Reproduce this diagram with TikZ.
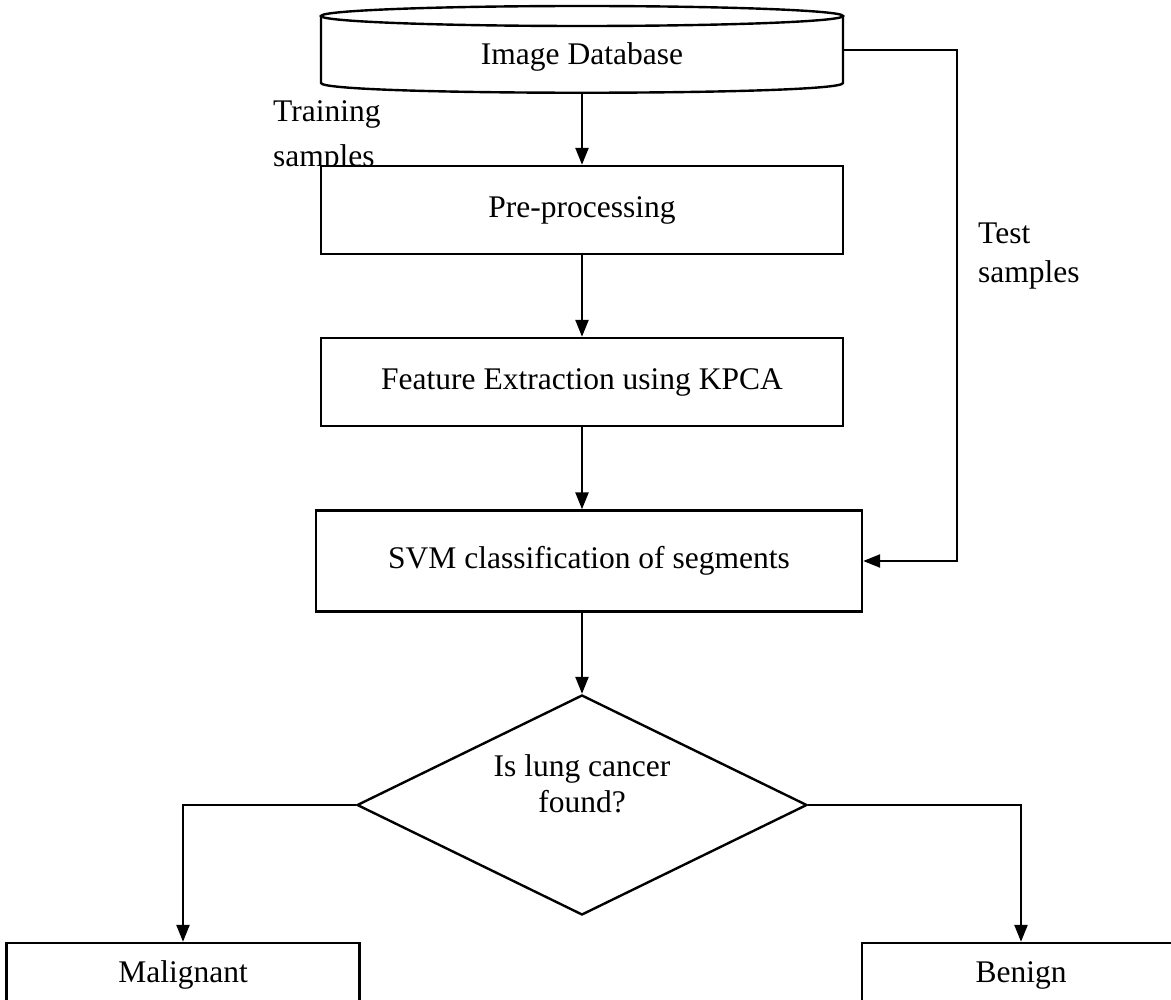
\documentclass[tikz,border=0pt]{standalone}
\usepackage{fontspec}
\setmainfont{Liberation Serif}
\usetikzlibrary{arrows.meta,shapes.geometric}
\begin{document}
\begin{tikzpicture}[x=1pt,y=-1pt,
  line width=2.4pt,
  >={Triangle[length=17pt,width=13pt]},
  txt/.style={font=\fontsize{31.5}{40}\selectfont},
  box/.style={draw, fill=white, rectangle, inner sep=0pt, txt},
  lbl/.style={txt, align=left, inner sep=0pt}]
\useasboundingbox (0,0) rectangle (1171,1000);

% labels (drawn first so boxes can cover them)
\node[lbl, anchor=west, font=\fontsize{31.5}{45}\selectfont] (trn) at (272,137) {Training\\samples};
\node[lbl, anchor=west, font=\fontsize{31.5}{39}\selectfont] (tst) at (977,256) {Test\\samples};

% database cylinder
\draw[fill=white] (321,16) -- (321,83) .. controls (321,96) and (843,96) .. (843,83) -- (843,16);
\draw[fill=white] (582,16) ellipse [x radius=261, y radius=10];
\node[txt, inner sep=0pt] (db) at (582,57) {Image Database};
\coordinate (dbbot) at (582,93);
\coordinate (dbout) at (843,50);

% process boxes
\node[box, minimum width=522pt, minimum height=88pt] (pre) at (582,210) {Pre-processing};
\node[box, minimum width=522pt, minimum height=88pt] (kpca) at (582,382) {Feature Extraction using KPCA};
\node[box, minimum width=546pt, minimum height=101pt] (svm) at (589,561) {SVM classification of segments};

% decision
\node[draw, diamond, minimum width=450pt, minimum height=220pt, inner sep=0pt] (dec) at (582,805) {};
\node[txt, align=center, inner sep=0pt, font=\fontsize{31.5}{36}\selectfont] (dect) at (582,784) {Is lung cancer\\found?};

% outcomes
\node[box, minimum width=353pt, minimum height=64pt] (mal) at (183,975) {Malignant};
\node[box, minimum width=318pt, minimum height=64pt] (ben) at (1021,975) {Benign};

% connectors
\draw[->] (dbbot) -- (pre.north);
\draw[->] (pre) -- (kpca);
\draw[->] (kpca.south) -- (kpca.south |- svm.north);
\draw[->] (svm.south -| dec.north) -- (dec.north);
\draw[->] (dbout) -- ++(114,0) |- (svm.east);
\draw[->] (dec.west) -| (mal.north);
\draw[->] (dec.east) -| (ben.north);
\end{tikzpicture}
\end{document}
